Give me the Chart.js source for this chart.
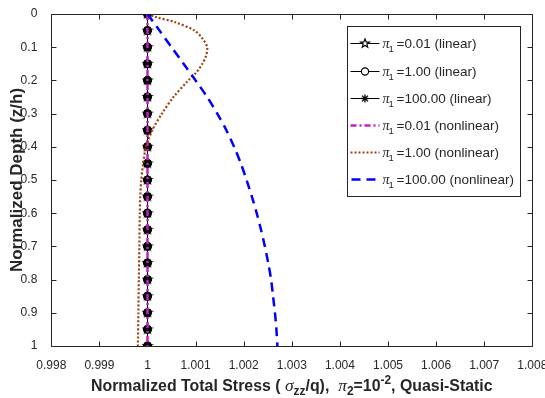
<!DOCTYPE html>
<html><head><meta charset="utf-8">
<script src="https://cdn.jsdelivr.net/npm/chart.js@4.4.1/dist/chart.umd.min.js"></script>
<style>html,body{margin:0;padding:0;background:#fff}#wrap{width:545px;height:398px}</style>
</head><body><div id="wrap"><canvas id="c" width="545" height="398"></canvas></div>
<script>
// ---------- data ----------
const depthLinear = [0,0.05,0.1,0.15,0.2,0.25,0.3,0.35,0.4,0.45,0.5,0.55,0.6,0.65,0.7,0.75,0.8,0.85,0.9,0.95,1];
const stressLin001 = [1,1,1,1,1,1,1,1,1,1,1,1,1,1,1,1,1,1,1,1,1];
const stressLin1   = [1,1,1,1,1,1,1,1,1,1,1,1,1,1,1,1,1,1,1,1,1];
const stressLin100 = [1,1,1,1,1,1,1,1,1,1,1,1,1,1,1,1,1,1,1,1,1];
const depthNon001  = [0,0.05,0.1,0.15,0.2,0.25,0.3,0.35,0.4,0.45,0.5,0.55,0.6,0.65,0.7,0.75,0.8,0.85,0.9,0.95,1];
const stressNon001 = [1,1,1,1,1,1,1,1,1,1,1,1,1,1,1,1,1,1,1,1,1];
const depthNon1    = [0,0.01,0.025,0.05,0.075,0.1,0.125,0.15,0.175,0.2,0.25,0.3,0.35,0.4,0.45,0.5,0.55,0.6,0.7,0.8,0.9,1];
const stressNon1   = [1.0,1.00019,1.00058,1.00098,1.00115,1.00124,1.00122,1.00114,1.00102,1.00085,1.00054,1.0003,1.0001,0.99997,0.99991,0.99987,0.99985,0.99984,0.99983,0.99982,0.99981,0.9998];
const depthNon100  = [0,0.05,0.1,0.15,0.2,0.25,0.3,0.35,0.4,0.45,0.5,0.55,0.6,0.65,0.7,0.75,0.8,0.85,0.9,0.95,1];
const stressNon100 = [1.0,1.00025,1.0005,1.00075,1.001,1.00124,1.00145,1.00164,1.0018,1.00194,1.00206,1.00217,1.00227,1.00236,1.00244,1.00251,1.00257,1.00261,1.00265,1.00268,1.0027];
const xTicks = [0.998,0.999,1,1.001,1.002,1.003,1.004,1.005,1.006,1.007,1.008];
const yTicks = [0,0.1,0.2,0.3,0.4,0.5,0.6,0.7,0.8,0.9,1];
const seriesLabels = ['=0.01 (linear)','=1.00 (linear)','=100.00 (linear)','=0.01 (nonlinear)','=1.00 (nonlinear)','=100.00 (nonlinear)'];
const yTitle = 'Normalized Depth (z/h)';

// ---------- styles ----------
const AX = '#262626';
const MAG = '#c81ec8', BROWN = '#a0400f', BLUE = '#0000ff';
function pentagram(size, r, lw){
  const c = document.createElement('canvas'); c.width = size; c.height = size;
  const g = c.getContext('2d'); g.strokeStyle = '#000'; g.fillStyle = '#000'; g.lineWidth = lw;
  drawPenta(g, size/2, size/2, r); g.fill(); g.stroke(); return c;
}
function drawPenta(g, cx, cy, R){
  const r = R*0.42; g.beginPath();
  for (let i=0;i<10;i++){
    const a = -Math.PI/2 + i*Math.PI/5; const rr = i%2? r:R;
    const px = cx + rr*Math.cos(a), py = cy + rr*Math.sin(a);
    i? g.lineTo(px,py) : g.moveTo(px,py);
  }
  g.closePath();
}
const starImg = pentagram(12, 4.3, 1.4);
const pts = (xs, ys) => xs.map((v,i)=>({x:v, y:ys[i]}));

const FONT = "'Liberation Sans', Arial, sans-serif";

const framePlugin = {
  id:'frame',
  beforeDatasetsDraw(chart){
    const {ctx, chartArea:a, scales:{x,y}} = chart;
    ctx.save(); ctx.strokeStyle = AX; ctx.lineWidth = 1;
    const L = Math.round(a.left)+0.5, R = Math.round(a.right)+0.5, T = Math.round(a.top)+0.5, B = Math.round(a.bottom)+0.5;
    ctx.beginPath();
    ctx.rect(L, T, R-L, B-T);
    const tl = 5;
    xTicks.forEach(v=>{ const px = Math.round(x.getPixelForValue(v))+0.5; ctx.moveTo(px,B); ctx.lineTo(px,B-tl); ctx.moveTo(px,T); ctx.lineTo(px,T+tl); });
    yTicks.forEach(v=>{ const py = Math.round(y.getPixelForValue(v))+0.5; ctx.moveTo(L,py); ctx.lineTo(L+tl,py); ctx.moveTo(R,py); ctx.lineTo(R-tl,py); });
    ctx.stroke(); ctx.restore();
  },
  afterDraw(chart){
    const ctx = chart.ctx; const a = chart.chartArea;
    // ---- x title with sub/superscripts ----
    const F = 15.9;
    const parts = [
      {t:'Normalized Total Stress ( ', f:`bold ${F}px ${FONT}`, dy:0},
      {t:'σ', f:`italic ${F*1.1}px 'Liberation Serif', serif`, dy:0},
      {t:'zz', f:`bold ${F*0.75}px ${FONT}`, dy:4},
      {t:'/q),  ', f:`bold ${F}px ${FONT}`, dy:0},
      {t:'π', f:`italic ${F*1.1}px 'Liberation Serif', serif`, dy:0},
      {t:'2', f:`bold ${F*0.75}px ${FONT}`, dy:4},
      {t:'=10', f:`bold ${F}px ${FONT}`, dy:0},
      {t:'-2', f:`bold ${F*0.75}px ${FONT}`, dy:-7},
      {t:', Quasi-Static', f:`bold ${F}px ${FONT}`, dy:0},
    ];
    ctx.save(); ctx.fillStyle = AX; ctx.textBaseline = 'alphabetic'; ctx.textAlign = 'left';
    let w = 0; parts.forEach(p=>{ ctx.font = p.f; p.w = ctx.measureText(p.t).width; w += p.w; });
    let xx = (a.left + a.right)/2 - w/2; const base = 391;
    parts.forEach(p=>{ ctx.font = p.f; ctx.fillText(p.t, xx, base + p.dy); xx += p.w; });

    // ---- legend ----
    const bx = 347.5, by = 26.5, bw = 173, bh = 170;
    ctx.fillStyle = '#fff'; ctx.fillRect(bx, by, bw, bh);
    ctx.strokeStyle = AX; ctx.lineWidth = 1; ctx.strokeRect(bx, by, bw, bh);
    const x0 = 350.5, x1 = 379.5, xm = 365;
    for (let i=0;i<6;i++){
      const cy = Math.round(43.3 + i*27.2) + 0.5;
      ctx.save();
      if (i<3){
        ctx.strokeStyle='#000'; ctx.lineWidth=1; ctx.beginPath(); ctx.moveTo(x0,cy); ctx.lineTo(x1,cy); ctx.stroke();
        ctx.fillStyle='#fff';
        if (i===0){ drawPenta(ctx, xm, cy, 4.6); ctx.fill(); ctx.lineWidth=1.2; ctx.stroke(); }
        if (i===1){ ctx.beginPath(); ctx.arc(xm, cy, 3.6, 0, Math.PI*2); ctx.fill(); ctx.lineWidth=1.2; ctx.stroke(); }
        if (i===2){ ctx.lineWidth=1.3; ctx.beginPath(); const r=4;
          ctx.moveTo(xm-r,cy); ctx.lineTo(xm+r,cy); ctx.moveTo(xm,cy-r); ctx.lineTo(xm,cy+r);
          const d=r*0.72; ctx.moveTo(xm-d,cy-d); ctx.lineTo(xm+d,cy+d); ctx.moveTo(xm-d,cy+d); ctx.lineTo(xm+d,cy-d); ctx.stroke(); }
      } else if (i===3){
        ctx.strokeStyle=MAG; ctx.lineWidth=2.5; ctx.setLineDash([6,3,2,3]); ctx.beginPath(); ctx.moveTo(x0,cy); ctx.lineTo(x1,cy); ctx.stroke();
      } else if (i===4){
        ctx.strokeStyle=BROWN; ctx.lineWidth=2.2; ctx.setLineDash([2,2]); ctx.beginPath(); ctx.moveTo(x0,cy); ctx.lineTo(x1,cy); ctx.stroke();
      } else {
        ctx.strokeStyle=BLUE; ctx.lineWidth=2.5; ctx.setLineDash([9,6]); ctx.beginPath(); ctx.moveTo(x0+1,cy); ctx.lineTo(x1,cy); ctx.stroke();
      }
      ctx.restore();
      ctx.fillStyle = AX; ctx.textBaseline='alphabetic';
      const tb = cy + 4.5;
      ctx.font = `italic 14px 'Liberation Serif', serif`; ctx.fillText('π', 382.5, tb);
      ctx.font = `9.5px ${FONT}`; ctx.fillText('1', 388.5, tb + 4);
      ctx.font = `13.5px ${FONT}`; ctx.fillText(seriesLabels[i], 396.5, tb);
    }
    ctx.restore();
  }
};

const tickFont = {family: FONT, size: 12};
new Chart(document.getElementById('c'), {
  type: 'scatter',
  data: { datasets: [
    {label: seriesLabels[0], data: pts(stressLin001, depthLinear), showLine:true, borderColor:'#000', borderWidth:1, pointStyle: starImg, pointRadius:5, order:6},
    {label: seriesLabels[1], data: pts(stressLin1, depthLinear), showLine:true, borderColor:'#000', borderWidth:1, pointStyle:'circle', pointRadius:3.8, pointBorderWidth:1.5, pointBackgroundColor:'#000', pointBorderColor:'#000', order:5},
    {label: seriesLabels[2], data: pts(stressLin100, depthLinear), showLine:true, borderColor:'#000', borderWidth:1, pointStyle:'star', pointRadius:4.5, pointBorderWidth:1.6, pointBorderColor:'#000', order:4},
    {label: seriesLabels[3], data: pts(stressNon001, depthNon001), showLine:true, borderColor:MAG, borderWidth:2.5, borderDash:[6,3,2,3], pointRadius:0, order:3},
    {label: seriesLabels[4], data: pts(stressNon1, depthNon1), showLine:true, borderColor:BROWN, borderWidth:2.2, borderDash:[2,2], pointRadius:0, tension:0.3, order:2},
    {label: seriesLabels[5], data: pts(stressNon100, depthNon100), showLine:true, borderColor:BLUE, borderWidth:2.5, borderDash:[9,6], pointRadius:0, tension:0.3, order:1},
  ]},
  options: {
    responsive:false, animation:false, devicePixelRatio:1,
    layout:{padding:{top:14, right:12.7, left:0, bottom:0}},
    plugins:{legend:{display:false}, tooltip:{enabled:false}},
    scales:{
      x:{type:'linear', min:0.998, max:1.008,
        afterBuildTicks(s){ s.ticks = xTicks.map(v=>({value:v})); },
        afterFit(s){ s.height = 52; s.paddingLeft = 0; s.paddingRight = 0; },
        ticks:{font:tickFont, color:AX, padding:4, maxRotation:0, autoSkip:false, callback:v=>String(Number(v.toFixed(3)))},
        grid:{display:false}, border:{display:false}},
      y:{type:'linear', min:0, max:1, reverse:true,
        afterBuildTicks(s){ s.ticks = yTicks.map(v=>({value:v})); },
        afterFit(s){ s.width = 51.3; s.paddingTop = 0; s.paddingBottom = 0; },
        ticks:{font:tickFont, color:AX, padding:6, autoSkip:false, callback:v=>String(Number(v.toFixed(1)))},
        title:{display:true, text:yTitle, color:AX, font:{family:FONT, size:17, weight:'bold'}, padding:{top:7, bottom:0}},
        grid:{display:false}, border:{display:false}}
    }
  },
  plugins:[framePlugin]
});
</script></body></html>
